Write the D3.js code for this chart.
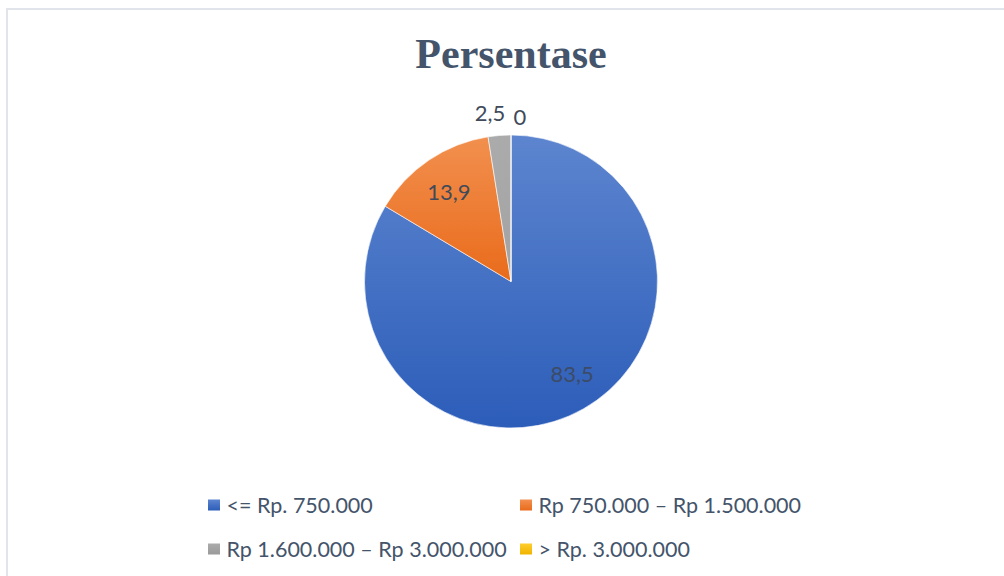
<!DOCTYPE html>
<html>
<head>
<meta charset="utf-8">
<script src="https://cdn.jsdelivr.net/npm/d3@7"></script>
<style>
  html, body { margin: 0; padding: 0; background: #fff; }
  svg { display: block; }
</style>
</head>
<body>
<svg id="chart" width="1004" height="576"></svg>
<script>
// Income groups and their share (%)
const categories = ["<= Rp. 750.000", "Rp 750.000 \u2013 Rp 1.500.000", "Rp 1.600.000 \u2013 Rp 3.000.000", "> Rp. 3.000.000"];
const values = [83.5, 13.9, 2.5, 0];
const labels = ["83,5", "13,9", "2,5", "0"];
const title = "Persentase";

const colorTop = ["#5d85cf", "#f2904f", "#ababab", "#ffcd2e"];
const colorBottom = ["#2c5db9", "#e96b1b", "#9a9a9a", "#f0b400"];

const svg = d3.select("#chart");
const defs = svg.append("defs");

// chart frame
svg.append("rect")
  .attr("x", 7).attr("y", 9)
  .attr("width", 1010).attr("height", 580)
  .attr("fill", "#fff")
  .attr("stroke", "#e1e5eb").attr("stroke-width", 2);

// title
svg.append("text")
  .attr("x", 511).attr("y", 68)
  .attr("text-anchor", "middle")
  .attr("font-family", "'Liberation Serif', 'Times New Roman', serif")
  .attr("font-weight", "bold")
  .attr("font-size", 42)
  .attr("fill", "#44546a")
  .text(title);

const cx = 511, cy = 281.5, r = 146.5;

// vertical gradients for slices (spanning the disc) and legend swatches
categories.forEach((c, i) => {
  const gs = defs.append("linearGradient")
    .attr("id", "grad" + i)
    .attr("gradientUnits", "userSpaceOnUse")
    .attr("x1", 0).attr("y1", -r)
    .attr("x2", 0).attr("y2", i === 1 ? 0 : r);
  gs.append("stop").attr("offset", "0%").attr("stop-color", colorTop[i]);
  gs.append("stop").attr("offset", "100%").attr("stop-color", colorBottom[i]);

  const gl = defs.append("linearGradient").attr("id", "lg" + i)
    .attr("x1", 0).attr("y1", 0).attr("x2", 0).attr("y2", 1);
  gl.append("stop").attr("offset", "0%").attr("stop-color", colorTop[i]);
  gl.append("stop").attr("offset", "100%").attr("stop-color", colorBottom[i]);
});

const pie = d3.pie().sort(null).value(d => d)(values);
const arc = d3.arc().innerRadius(0).outerRadius(r);

const g = svg.append("g").attr("transform", `translate(${cx},${cy})`);

g.selectAll("path.slice")
  .data(pie)
  .join("path")
  .attr("class", "slice")
  .attr("d", arc)
  .attr("fill", (d, i) => `url(#grad${i})`)
  .attr("stroke", "#fff")
  .attr("stroke-width", 0.6);

// data labels
const labelPos = [
  d3.arc().innerRadius(r * 0.75).outerRadius(r * 0.75),
  d3.arc().innerRadius(r * 0.72).outerRadius(r * 0.72),
  d3.arc().innerRadius(r * 1.14).outerRadius(r * 1.14),
  d3.arc().innerRadius(r * 1.13).outerRadius(r * 1.13)
];
const labelShift = [[7, -4], [-3, -3], [-8, -3], [9, 1]];
const labelColor = ["#3c4b66", "#404a5a", "#404a5a", "#404a5a"];

g.selectAll("text.lbl")
  .data(pie)
  .join("text")
  .attr("class", "lbl")
  .attr("x", (d, i) => labelPos[i].centroid(d)[0] + labelShift[i][0])
  .attr("y", (d, i) => labelPos[i].centroid(d)[1] + labelShift[i][1])
  .attr("text-anchor", "middle")
  .attr("dominant-baseline", "central")
  .attr("font-family", "Lato, 'Open Sans', sans-serif")
  .attr("font-size", 22)
  .attr("fill", (d, i) => labelColor[i])
  .text((d, i) => labels[i]);

// legend
const legX = [208, 520], legY = [505, 549];
const leg = svg.append("g");
categories.forEach((c, i) => {
  const x = legX[i % 2], y = legY[Math.floor(i / 2)];
  leg.append("rect")
    .attr("x", x).attr("y", y - 5.5)
    .attr("width", 12).attr("height", 11)
    .attr("fill", `url(#lg${i})`);
  leg.append("text")
    .attr("x", x + 18.5).attr("y", y)
    .attr("dominant-baseline", "central")
    .attr("font-family", "Lato, 'Open Sans', sans-serif")
    .attr("font-size", 21.5)
    .attr("fill", "#44546a")
    .text(c);
});
</script>
</body>
</html>
